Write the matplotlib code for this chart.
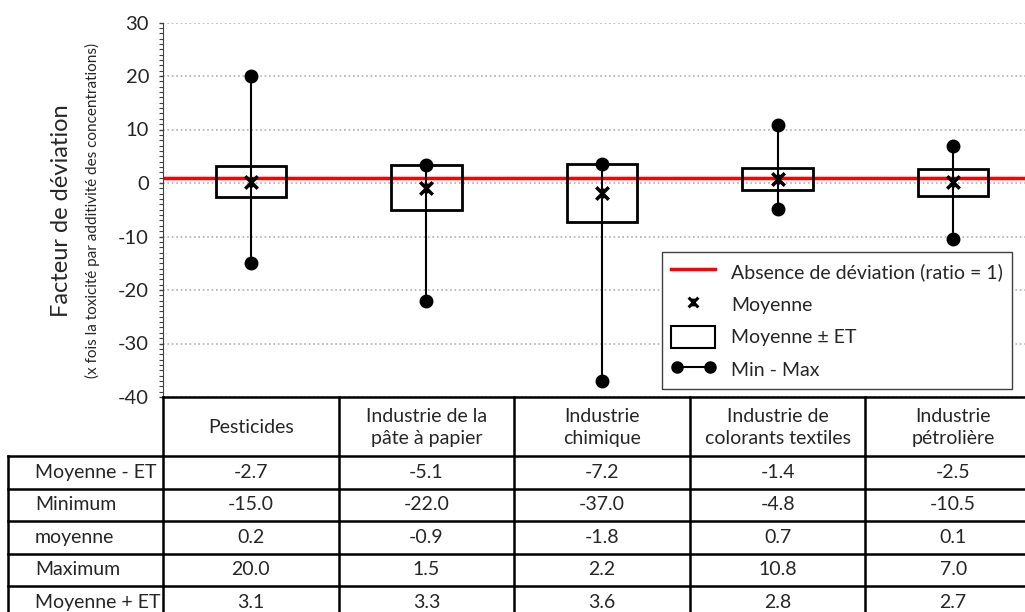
import numpy as np
import matplotlib
matplotlib.use("Agg")
import matplotlib.pyplot as plt
from matplotlib.lines import Line2D
from matplotlib.patches import Rectangle
from matplotlib.path import Path
from matplotlib.legend_handler import HandlerLine2D
from matplotlib.ticker import MultipleLocator

plt.rcParams['font.family'] = ['Lato', 'DejaVu Sans']
plt.rcParams['axes.unicode_minus'] = False

# --- Données ---
categories = ["Pesticides", "Industrie de la\npâte à papier", "Industrie\nchimique",
              "Industrie de\ncolorants textiles", "Industrie\npétrolière"]
moy_moins_et = [-2.7, -5.1, -7.2, -1.4, -2.5]
minimum = [-15.0, -22.0, -37.0, -4.8, -10.5]
moyenne = [0.2, -0.9, -1.8, 0.7, 0.1]
maximum = [20.0, 1.5, 2.2, 10.8, 7.0]
moy_plus_et = [3.1, 3.3, 3.6, 2.8, 2.7]
ratio_ref = 1

row_labels = ["Moyenne - ET", "Minimum", "moyenne", "Maximum", "Moyenne + ET"]
rows = [moy_moins_et, minimum, moyenne, maximum, moy_plus_et]

TXT = '#262626'

# --- Figure (positions in pixels of a 1025x612 canvas) ---
W, H = 1025, 612
fig = plt.figure(figsize=(W / 100, H / 100), dpi=100)
ax_l, ax_r, ax_t, ax_b = 163, 1041, 22.5, 397
ax = fig.add_axes([ax_l / W, 1 - ax_b / H, (ax_r - ax_l) / W, (ax_b - ax_t) / H])

n = len(categories)
x = np.arange(n)
box_w = 0.4

ax.set_xlim(-0.5, n - 0.5)
ax.set_ylim(-40, 30)
ax.yaxis.set_major_locator(MultipleLocator(10))
ax.yaxis.set_minor_locator(MultipleLocator(1))
ax.set_xticks([])
ax.grid(axis='y', which='major', color='#b0b0b0', linestyle=':', linewidth=1.2, zorder=0)
for s in ['top', 'right', 'bottom']:
    ax.spines[s].set_visible(False)
ax.spines['left'].set_color('#404040')
ax.tick_params(axis='y', which='major', length=3, width=1, color='#404040',
               labelsize=14.5, labelcolor=TXT, pad=7)
ax.tick_params(axis='y', which='minor', length=3, width=0.8, color='#404040')

# ligne de référence
ax.axhline(ratio_ref, color='#ff0000', linewidth=2.5, zorder=2)

# min - max
for i in range(n):
    haut = max(maximum[i], moy_plus_et[i])
    ax.plot([x[i], x[i]], [minimum[i], haut], color='black', linewidth=1.5, zorder=3)
    ax.plot([x[i], x[i]], [minimum[i], haut], linestyle='none', marker='o',
            markersize=9, color='black', zorder=5)

# moyenne ± ET
for i in range(n):
    ax.add_patch(Rectangle((x[i] - box_w / 2, moy_moins_et[i]), box_w,
                           moy_plus_et[i] - moy_moins_et[i], facecolor='none',
                           edgecolor='black', linewidth=2, zorder=4))

# moyenne
star = Path([(-1, -1), (1, 1), (-1, 1), (1, -1), (0, -0.8), (0, 0.8)],
            [Path.MOVETO, Path.LINETO, Path.MOVETO, Path.LINETO, Path.MOVETO, Path.LINETO])
ax.plot(x, moyenne, linestyle='none', marker=star, markersize=9, markeredgewidth=2.5,
        color='black', zorder=6)

# titres de l'axe Y
fig.text(62 / W, 1 - 211 / H, "Facteur de déviation", rotation=90, fontsize=17,
         color=TXT, ha='center', va='center')
fig.text(92 / W, 1 - 210 / H, "(x fois la toxicité par additivité des concentrations)",
         rotation=90, fontsize=11, color=TXT, ha='center', va='center')

# légende
h_ref = Line2D([], [], color='#ff0000', linewidth=2.5)
h_moy = Line2D([], [], linestyle='none', marker=star, markersize=7, markeredgewidth=2.2,
               color='black')
h_box = Rectangle((0, 0), 1, 1, facecolor='white', edgecolor='black', linewidth=1.5)
h_mm = Line2D([], [], color='black', linewidth=1.5, marker='o', markersize=8)
leg = fig.legend([h_ref, h_moy, h_box, h_mm],
                 ["Absence de déviation (ratio = 1)", "Moyenne", "Moyenne ± ET", "Min - Max"],
                 loc='upper left', bbox_to_anchor=(662 / W, 1 - 252 / H),
                 fontsize=14, frameon=True, fancybox=False, framealpha=1,
                 edgecolor='#404040', borderpad=0.45, labelspacing=0.55,
                 handlelength=2.3, handleheight=1.35, handletextpad=0.8, borderaxespad=0,
                 handler_map={h_mm: HandlerLine2D(numpoints=2)})
leg.get_frame().set_linewidth(1)
for t in leg.get_texts():
    t.set_color(TXT)

# --- Tableau des valeurs ---
tab = fig.add_axes([ax_l / W, 0, (ax_r - ax_l) / W, 1 - ax_b / H])
tab.set_xlim(-0.5, n - 0.5)
tab.set_ylim(H, ax_b)
tab.axis('off')

col_px = (ax_r - ax_l) / n
lab_left = -0.5 - (ax_l - 8) / col_px
head_bot = 456
row_h = 32.5
lw = 1.8
kw = dict(color='black', linewidth=lw, clip_on=False, solid_capstyle='projecting')

tab.plot([-0.5, n - 0.5], [ax_b, ax_b], **kw)
tab.plot([lab_left, n - 0.5], [head_bot, head_bot], **kw)
for r in range(1, len(rows) + 1):
    yl = head_bot + r * row_h
    tab.plot([lab_left, n - 0.5], [yl, yl], **kw)
tab.plot([lab_left, lab_left], [head_bot, H + 10], **kw)
for c in range(n + 1):
    tab.plot([c - 0.5, c - 0.5], [ax_b, H + 10], **kw)

for i, cat in enumerate(categories):
    tab.text(x[i], (ax_b + head_bot) / 2 + 1, cat, ha='center', va='center',
             fontsize=14, color=TXT, linespacing=1.3)

for r, (lab, vals) in enumerate(zip(row_labels, rows)):
    yc = head_bot + (r + 0.5) * row_h
    tab.text(lab_left + 27 / col_px, yc, lab, ha='left', va='center', fontsize=14,
             color=TXT, clip_on=False)
    for i, v in enumerate(vals):
        tab.text(x[i], yc, f"{v:.1f}", ha='center', va='center', fontsize=14, color=TXT)

fig.savefig("out.png", dpi=100)
